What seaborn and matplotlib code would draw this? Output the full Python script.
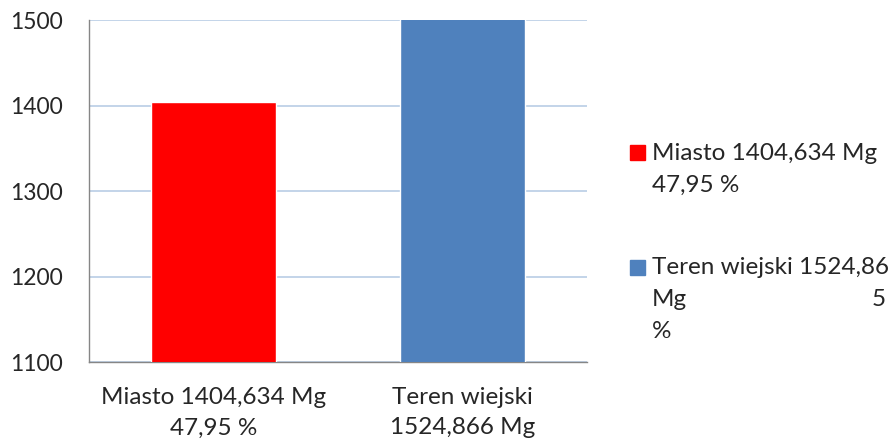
import pandas as pd
import seaborn as sns
import matplotlib.pyplot as plt
from matplotlib.patches import Rectangle

categories = ['Miasto 1404,634 Mg\n47,95 %', 'Teren wiejski\n1524,866 Mg']
values = [1404.634, 1524.866]
colors = ['#ff0000', '#4f81bd']
legend_lines = [['Miasto 1404,634 Mg', '47,95 %'],
                ['Teren wiejski 1524,86', 'Mg', '%']]
yticks = [1100, 1200, 1300, 1400, 1500]

df = pd.DataFrame({'cat': categories, 'val': values})

sns.set_style('white')
plt.rcParams['font.family'] = ['Lato', 'DejaVu Sans']
fs = 17.5

fig = plt.figure(figsize=(8.93, 4.45), dpi=100)
ax = fig.add_axes([0.0997, 0.1865, 0.5577, 0.7685])

sns.barplot(data=df, x='cat', y='val', hue='cat', palette=colors,
            width=0.5, ax=ax, legend=False, saturation=1, zorder=3)

ax.set_ylim(1100, 1500)
ax.set_xlim(-0.5, 1.5)
ax.set_yticks(yticks)
ax.yaxis.grid(True, color='#b9cde5', linewidth=1.2, zorder=0)
ax.set_axisbelow(True)
ax.set_xlabel('')
ax.set_ylabel('')

for s in ['top', 'right']:
    ax.spines[s].set_visible(False)
for s in ['left', 'bottom']:
    ax.spines[s].set_color('#868686')
    ax.spines[s].set_linewidth(1)

ax.tick_params(axis='y', length=6, color='#868686', pad=13, labelsize=16.5)
ax.tick_params(axis='x', length=0, pad=18, labelsize=fs)
ax.set_xticks([-0.5, 0.5, 1.5], minor=True)
ax.tick_params(axis='x', which='minor', length=6, color='#868686')
for lbl in ax.get_xticklabels():
    lbl.set_linespacing(1.55)

# manual legend on the right
W, H = 893, 445
entry_y = [153, 267]
line_h = 32
for i, lines in enumerate(legend_lines):
    y0 = entry_y[i]
    fig.patches.append(Rectangle((630 / W, 1 - (y0 + 7.5) / H), 15 / W, 15 / H,
                                 transform=fig.transFigure, color=colors[i]))
    for j, t in enumerate(lines):
        fig.text(652 / W, 1 - (y0 + j * line_h) / H, t, ha='left', va='center',
                 fontsize=fs)
# justified tail of the second legend label
fig.text(886 / W, 1 - (entry_y[1] + line_h) / H, '5', ha='right', va='center',
         fontsize=fs)

fig.savefig('out.png', dpi=100)
